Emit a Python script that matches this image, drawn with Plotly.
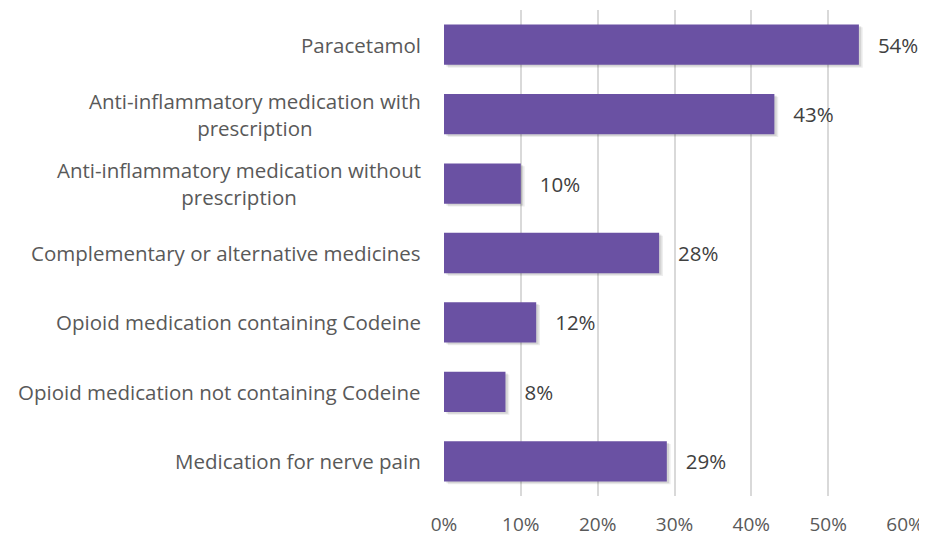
import plotly.graph_objects as go

categories = [
    "Paracetamol",
    "Anti-inflammatory medication with<br>prescription",
    "Anti-inflammatory medication without<br>prescription",
    "Complementary or alternative medicines",
    "Opioid medication containing Codeine",
    "Opioid medication not containing Codeine",
    "Medication for nerve pain",
]
values = [0.54, 0.43, 0.10, 0.28, 0.12, 0.08, 0.29]
value_labels = ["54%", "43%", "10%", "28%", "12%", "8%", "29%"]
x_ticks = [0, 0.1, 0.2, 0.3, 0.4, 0.5, 0.6]
x_tick_labels = ["0%", "10%", "20%", "30%", "40%", "50%", "60%"]

FONT = "Open Sans"
TXT = "#595959"
BAR = "#6A51A3"
NB = "\u00a0"

fig = go.Figure()
# soft shadow (two layers for a blurred look)
for sh_base, sh_off, alpha in [(0.005, -0.25, 0.07), (0.003, -0.265, 0.10)]:
    fig.add_trace(go.Bar(
        y=categories, x=values, orientation="h", base=sh_base,
        marker=dict(color=f"rgba(0,0,0,{alpha})", line=dict(width=0)),
        width=0.58, offset=sh_off, hoverinfo="skip", showlegend=False,
    ))
fig.add_trace(go.Bar(
    y=categories, x=values, orientation="h",
    marker=dict(color=BAR, line=dict(width=0)),
    width=0.58, offset=-0.29,
    text=[NB * 3 + t for t in value_labels], textposition="outside", cliponaxis=False,
    textfont=dict(family=FONT, size=20.5, color="#404040"),
    showlegend=False,
))

for c in categories:
    fig.add_annotation(
        x=0, y=c, xref="x", yref="y", text=c, showarrow=False,
        xanchor="right", yanchor="middle", align="center", xshift=-21,
        font=dict(family=FONT, size=20.5, color=TXT),
    )

# page body has an 8px default margin: figure is drawn at (8, 8)
fig.update_layout(
    width=919, height=529,
    margin=dict(l=436, r=22, t=2, b=41, autoexpand=False),
    paper_bgcolor="white", plot_bgcolor="white",
    barmode="overlay",
    bargap=0.42,
)
fig.update_xaxes(
    range=[0, 0.6], tickvals=x_ticks, ticktext=x_tick_labels,
    showgrid=True, gridcolor="#D9D9D9", gridwidth=1.5,
    zeroline=False, showline=False, automargin=False,
    ticks="outside", ticklen=11, tickcolor="rgba(0,0,0,0)",
    tickfont=dict(family=FONT, size=19, color=TXT),
)
fig.update_yaxes(
    autorange="reversed", showticklabels=False, showgrid=False,
    zeroline=False, showline=False, automargin=False,
)
fig.write_html("out.html")
